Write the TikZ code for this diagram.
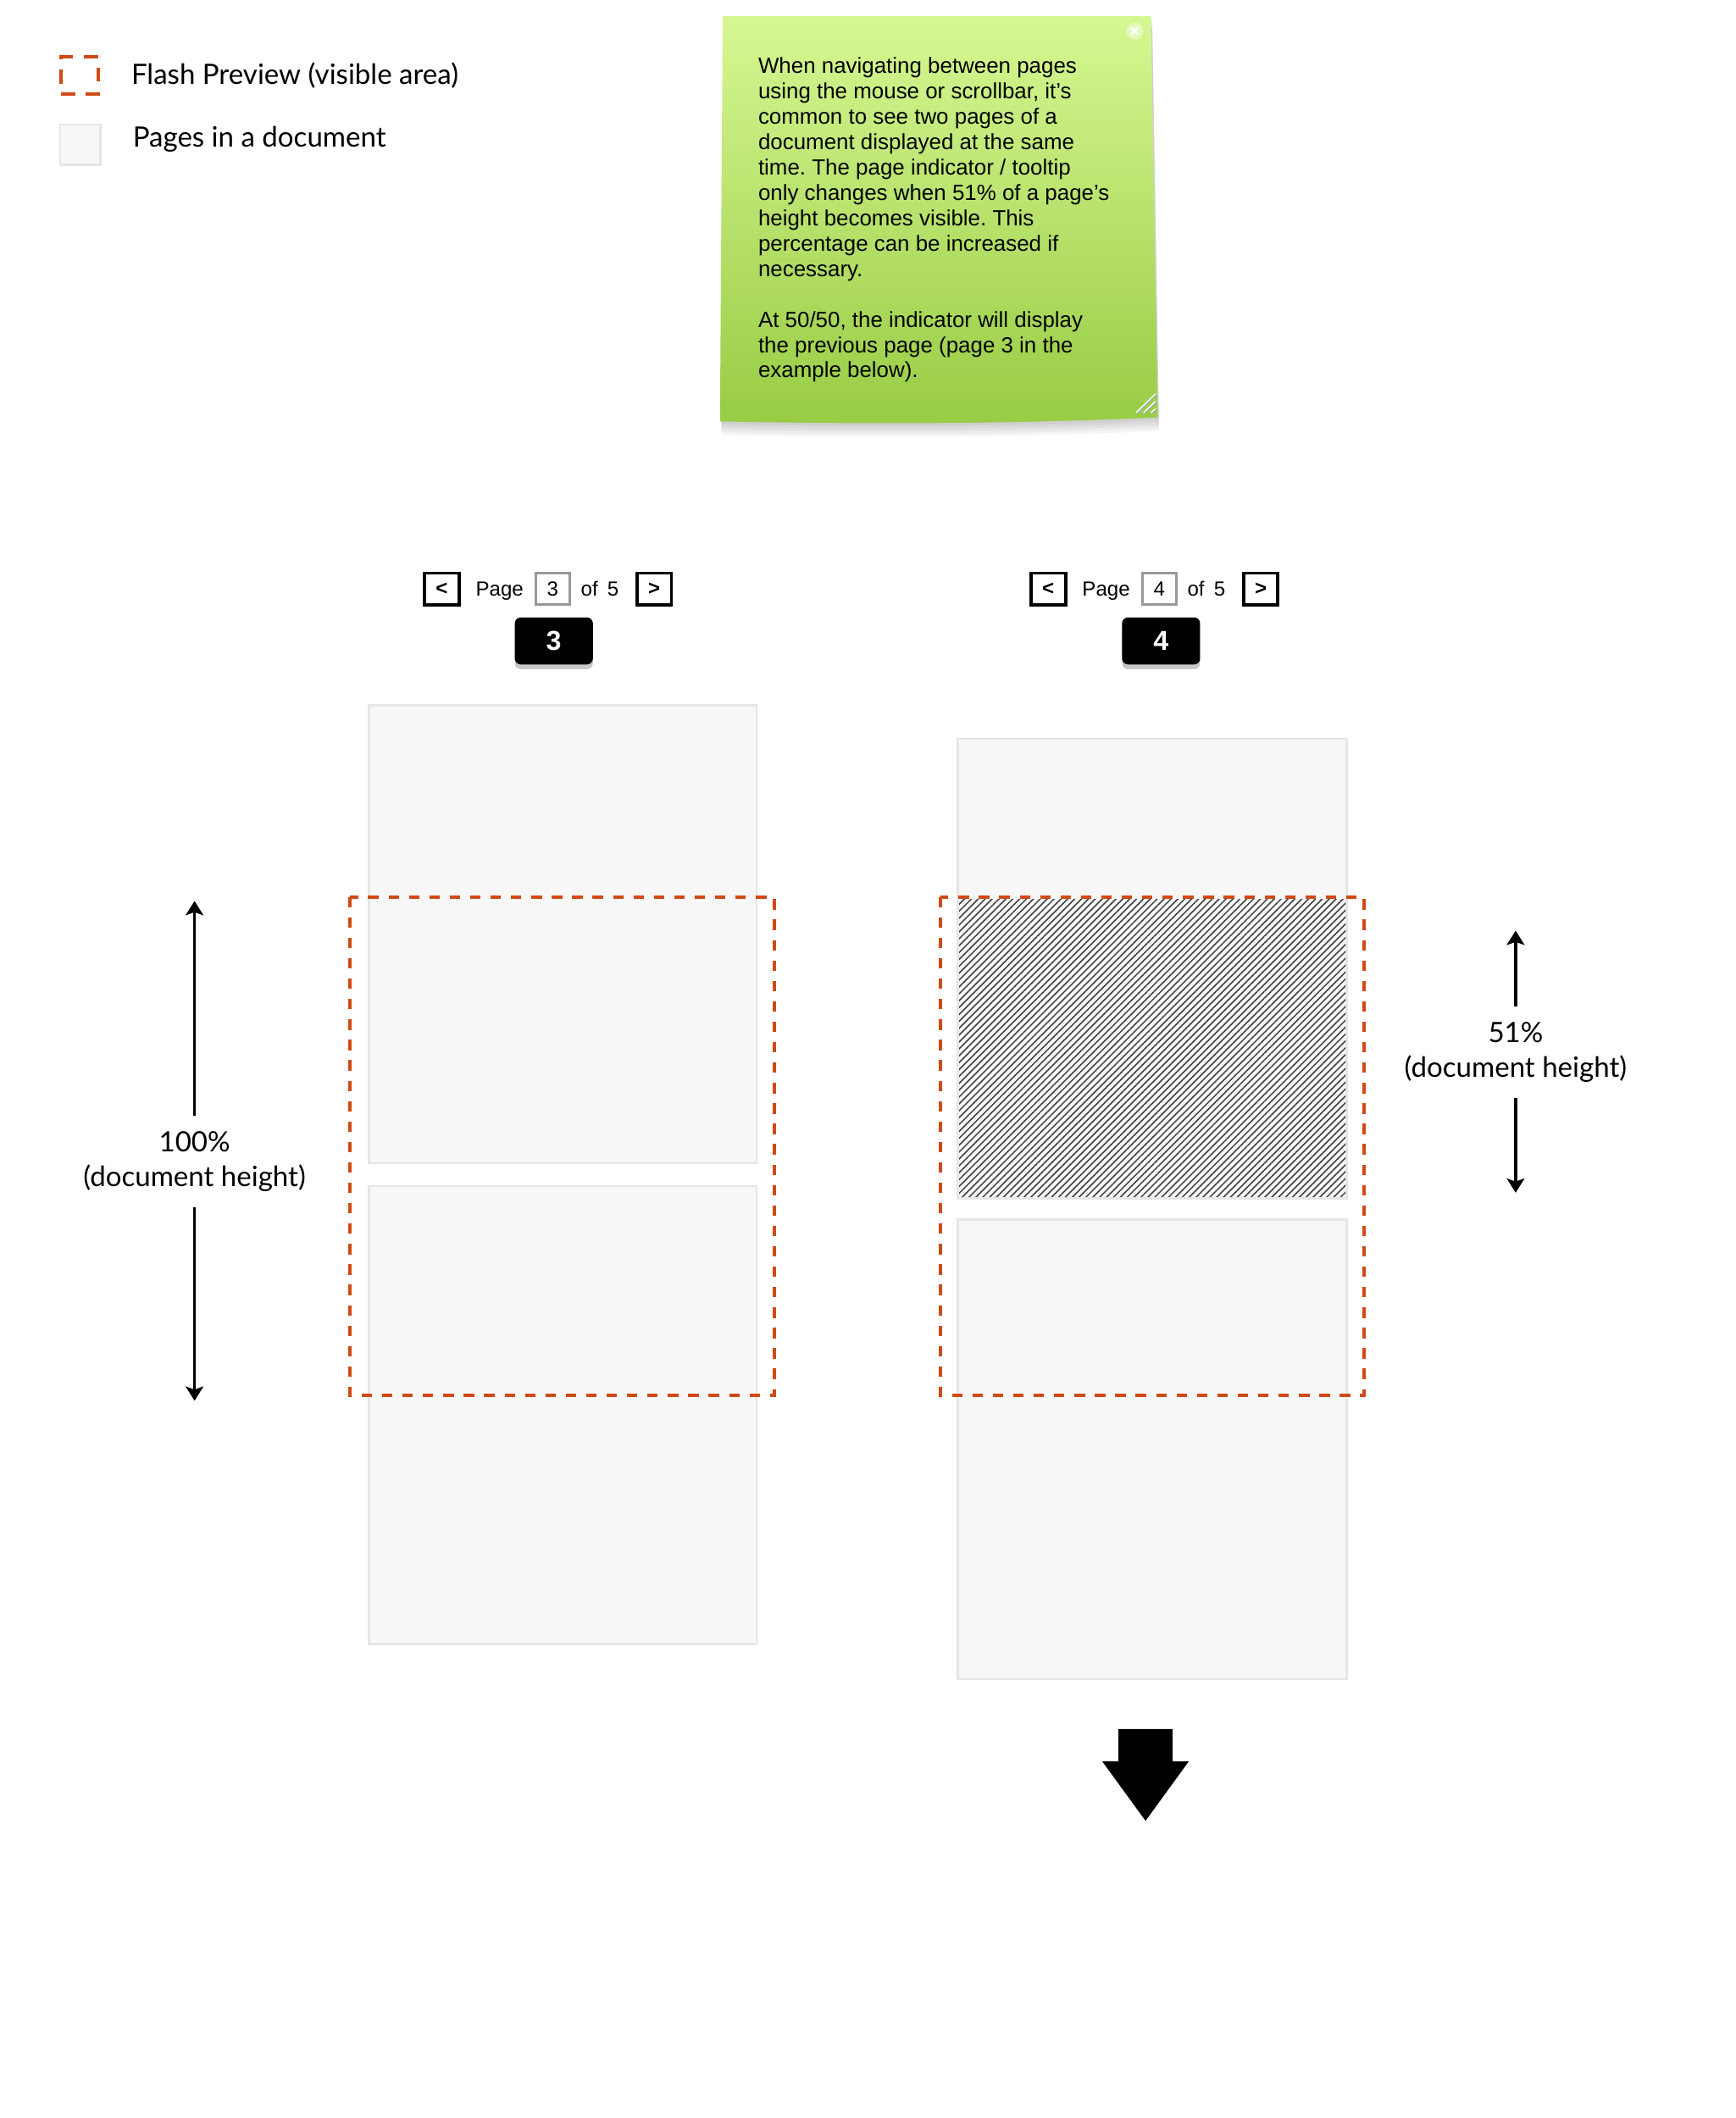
\documentclass[tikz,border=0pt]{standalone}
\usepackage{fontspec}
\setmainfont{Liberation Sans}
\newfontfamily\labelfont{Lato}
\usetikzlibrary{positioning, arrows.meta, patterns.meta, shadows}
\frenchspacing

\definecolor{visred}{RGB}{208,74,20}
\definecolor{pagefill}{RGB}{247,247,248}
\definecolor{pageedge}{RGB}{230,230,231}
\definecolor{notetop}{RGB}{214,247,146}
\definecolor{notebot}{RGB}{152,204,68}

\begin{document}
\begin{tikzpicture}[x=0.02cm, y=-0.02cm,
      every node/.style={inner sep=0pt},
      legend/.style={font=\labelfont\fontsize{11.8}{14.5}\selectfont},
      page/.style={draw=pageedge, fill=pagefill, line width=0.9pt},
      visarea/.style={draw=visred, line width=1.45pt, dash pattern=on 4.4pt off 4.2pt},
      hatch/.style={pattern={Lines[angle=45, distance=2.05pt, line width=0.55pt]},
                    pattern color=black!75},
      notetext/.style={align=left, font=\fontsize{9.25}{10.7}\selectfont},
      navtxt/.style={font=\fontsize{8.6}{10}\selectfont, text height=7.4pt, text depth=1.3pt},
      navbtn/.style={draw, line width=1.4pt, minimum width=14.5pt, minimum height=13.3pt,
                     font=\bfseries\fontsize{8.6}{10}\selectfont},
      numbox/.style={navtxt, draw=black!40, fill=white, line width=1.1pt,
                     minimum width=14.2pt, minimum height=13.3pt},
      badge/.style={fill=black, text=white, rounded corners=2.5pt,
                    minimum width=32.9pt, minimum height=19.8pt,
                    font=\bfseries\fontsize{11.5}{12}\selectfont,
                    drop shadow={fill=black!60, opacity=0.35, shadow xshift=0pt, shadow yshift=-2pt}},
      dimlabel/.style={legend, align=center, inner ysep=6.5pt},
      dimarrow/.style={-{Stealth[length=6pt, width=7.4pt, inset=1.3pt]}, line width=1.2pt},
  ]
    \useasboundingbox (0,0) rectangle (1285,1568);
    \fill[white] (0,0) rectangle (1285,1568);

    %% --- legend ---
    \node[visarea, dash pattern=on 6pt off 4.5pt, minimum size=15.7pt] (keyvis) at (59,56) {};
    \node[legend, right=13pt of keyvis] (lgvis) {Flash Preview (visible area)};
    \node[page, minimum size=17pt] (keypage) at (59.5,107) {};
    \node[legend, anchor=west] (lgpage) at (98,103) {Pages in a document};

    %% --- sticky note ---
    \foreach \d in {2,4,...,10}
      \fill[black, opacity=0.04, shift={(1,\d)}]
        (535,12) -- (852,12) -- (857,309) .. controls (750,314) and (640,314) .. (533,312) -- cycle;
    \shade[top color=notetop, bottom color=notebot]
      (535,12) -- (852,12) -- (857,309) .. controls (750,314) and (640,314) .. (533,312) -- cycle;
    \fill[white, opacity=0.35] (840,23) circle[radius=3.7pt];
    \draw[white, line width=1pt] (837.5,20.5) -- (842.5,25.5) (837.5,25.5) -- (842.5,20.5);
    \draw[black!35, line width=0.5pt] (842,306) -- (856,292) (847.5,306) -- (856,297.5) (853,306) -- (856,303);
    \draw[white, line width=0.5pt] (841,305.5) -- (855.5,291.5) (846.5,305.5) -- (855.5,297) (852,305.5) -- (855.5,302.5);
    \node[notetext, anchor=north west] (note) at (561,42)
      {When navigating between pages\\using the mouse or scrollbar, it’s\\common to see two pages of a\\document displayed at the same\\time. The page indicator / tooltip\\only changes when 51\% of a page’s\\height becomes visible. This\\percentage can be increased if\\necessary.\\[10.7pt]At 50/50, the indicator will display\\the previous page (page 3 in the\\example below).};

    %% --- page indicators ---
    \node[navbtn] (prev3) at (327,436) {<};
    \node[navtxt, right=6.2pt of prev3] (page3) {Page};
    \node[numbox, right=4.5pt of page3] (num3) {3};
    \node[navtxt, right=4pt of num3]    (of3)   {of\hspace{4pt}5};
    \node[navbtn, right=6.8pt of of3]   (next3) {>};
    \node[badge] (tip3) at (410,474.5) {3};

    \node[navbtn] (prev4) at (776,436) {<};
    \node[navtxt, right=6.2pt of prev4] (page4) {Page};
    \node[numbox, right=4.5pt of page4] (num4) {4};
    \node[navtxt, right=4pt of num4]    (of4)   {of\hspace{4pt}5};
    \node[navbtn, right=6.8pt of of4]   (next4) {>};
    \node[badge] (tip4) at (859.5,474.5) {4};

    %% --- pages ---
    \draw[page] (273,522) rectangle (560,861);
    \draw[page] (273,878) rectangle (560,1217);
    \draw[page] (709,547) rectangle (997,887);
    \draw[page] (709,903) rectangle (997,1243);
    \fill[hatch] (710,666) rectangle (996,886);

    %% --- visible areas ---
    \draw[visarea] (259,664) rectangle (573,1033);
    \draw[visarea] (696,664) rectangle (1010,1033);

    %% --- height markers ---
    \coordinate (top100) at (144,667);
    \coordinate (bot100) at (144,1037);
    \node[dimlabel] (pct100) at (144,860) {100\%\\(document height)};
    \draw[dimarrow] (pct100) -- (top100);
    \draw[dimarrow] (pct100) -- (bot100);

    \coordinate (top51) at (1122,689);
    \coordinate (bot51) at (1122,883);
    \node[dimlabel] (pct51) at (1122,779) {51\%\\(document height)};
    \draw[dimarrow] (pct51) -- (top51);
    \draw[dimarrow] (pct51) -- (bot51);

    %% --- scroll direction ---
    \fill (828,1280) -- (868,1280) -- (868,1304) -- (880,1304) -- (848,1348)
      -- (816,1304) -- (828,1304) -- cycle;
\end{tikzpicture}
\end{document}
